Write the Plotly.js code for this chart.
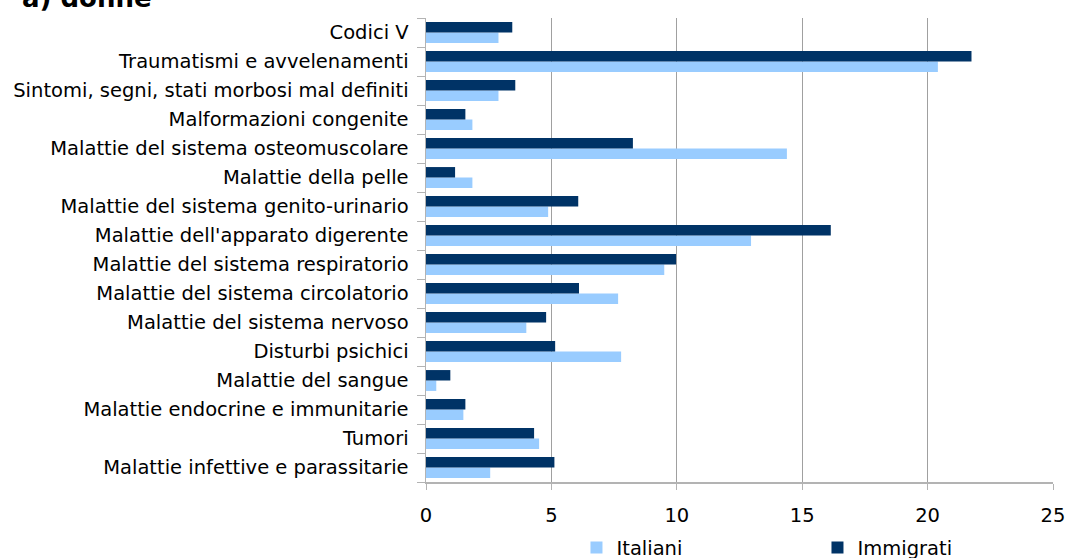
<!DOCTYPE html>
<html>
<head>
<meta charset="utf-8">
<script src="https://cdn.plot.ly/plotly-3.0.1.min.js"></script>
<style>
html,body{margin:0;padding:0;background:#fff;}
#chart{width:1066px;height:558px;}
</style>
</head>
<body>
<div id="chart"></div>
<script>
// Categories listed bottom-to-top
const categories = [
  "Malattie infettive e parassitarie",
  "Tumori",
  "Malattie endocrine e immunitarie",
  "Malattie del sangue",
  "Disturbi psichici",
  "Malattie del sistema nervoso",
  "Malattie del sistema circolatorio",
  "Malattie del sistema respiratorio",
  "Malattie dell'apparato digerente",
  "Malattie del sistema genito-urinario",
  "Malattie della pelle",
  "Malattie del sistema osteomuscolare",
  "Malformazioni congenite",
  "Sintomi, segni, stati morbosi mal definiti",
  "Traumatismi e avvelenamenti",
  "Codici V"
];
const italiani = [2.56, 4.51, 1.49, 0.41, 7.78, 4.00, 7.66, 9.50, 12.96, 4.87, 1.85, 14.39, 1.85, 2.89, 20.41, 2.89];
const immigrati = [5.12, 4.31, 1.57, 0.97, 5.15, 4.79, 6.10, 9.97, 16.14, 6.07, 1.16, 8.25, 1.57, 3.56, 21.75, 3.44];
const xTicks = [0, 5, 10, 15, 20, 25];
const seriesNames = ["Italiani", "Immigrati"];
const titleText = "a) donne";

const FONT = "DejaVu Sans, Verdana, sans-serif";
const FS = 19.5;

const traces = [
  {type: "bar", orientation: "h", name: seriesNames[0], y: categories, x: italiani,
   marker: {color: "#99ccff", line: {width: 0}}, hoverinfo: "x+name"},
  {type: "bar", orientation: "h", name: seriesNames[1], y: categories, x: immigrati,
   marker: {color: "#003366", line: {width: 0}}, hoverinfo: "x+name"}
];

const layout = {
  width: 1066, height: 558,
  margin: {l: 426, r: 13, t: 17.5, b: 75.5, pad: 0, autoexpand: false},
  paper_bgcolor: "#ffffff", plot_bgcolor: "#ffffff",
  font: {family: FONT, size: FS, color: "#000000"},
  barmode: "group", bargap: 0.28, bargroupgap: 0,
  showlegend: true,
  legend: {orientation: "h", x: 0.240, xanchor: "left", y: -0.142, yanchor: "middle",
           yref: "paper", entrywidth: 196, entrywidthmode: "pixels",
           font: {family: FONT, size: FS, color: "#000"}, traceorder: "normal",
           bgcolor: "rgba(0,0,0,0)"},
  xaxis: {range: [0, 25], tickvals: xTicks, ticktext: xTicks.map(String),
          showgrid: true, gridcolor: "#a0a0a0", gridwidth: 1,
          zeroline: false, showline: true, linecolor: "#b3b3b3", linewidth: 1.5,
          ticks: "outside", ticklen: 6, tickcolor: "#b3b3b3", ticklabelstandoff: 9,
          tickfont: {family: FONT, size: FS, color: "#000"}, fixedrange: true},
  yaxis: {type: "category", categoryorder: "array", categoryarray: categories,
          showgrid: false, zeroline: false, showline: true, linecolor: "#b3b3b3", linewidth: 1.5,
          ticks: "outside", tickson: "boundaries", ticklen: 8, tickcolor: "#b3b3b3",
          ticklabelstandoff: 12,
          tickfont: {family: FONT, size: FS, color: "#000"}, fixedrange: true},
  annotations: [
    {text: "<b>" + titleText + "</b>", xref: "paper", yref: "paper",
     x: -0.648, xanchor: "left", y: 1.044, yanchor: "middle", showarrow: false,
     font: {family: FONT, size: 26, color: "#000"}}
  ]
};

Plotly.newPlot("chart", traces, layout, {displayModeBar: false, staticPlot: true});
</script>
</body>
</html>
